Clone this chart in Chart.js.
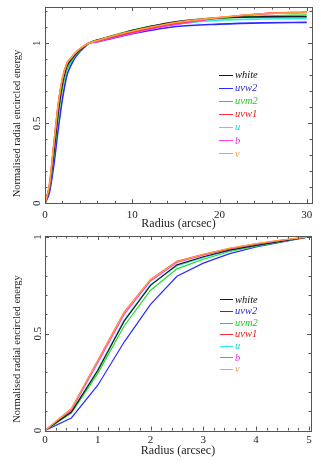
<!DOCTYPE html>
<html>
<head>
<meta charset="utf-8">
<script src="https://cdn.jsdelivr.net/npm/chart.js@4/dist/chart.umd.min.js"></script>
<style>
html,body{margin:0;padding:0;background:#fff;}
canvas{display:block;}
</style>
</head>
<body>
<canvas id="top" width="327" height="230"></canvas>
<canvas id="bottom" width="327" height="233"></canvas>
<script>
// ---- data ----
const bands = ['white', 'uvw2', 'uvm2', 'uvw1', 'u', 'b', 'v'];
const innerRadii = [0, 0.5, 1, 1.5, 2, 2.5, 3, 3.5, 4, 4.5, 5];
const outerRadii = [6, 7, 8, 10, 12, 15, 20, 25, 30];

const whiteInner = [0, 0.095, 0.31, 0.565, 0.75, 0.856, 0.898, 0.932, 0.957, 0.978, 1];
const uvw2Inner  = [0, 0.065, 0.234, 0.457, 0.652, 0.797, 0.865, 0.914, 0.948, 0.974, 1];
const uvm2Inner  = [0, 0.09, 0.295, 0.54, 0.725, 0.835, 0.885, 0.925, 0.953, 0.977, 1];
const uvw1Inner  = [0, 0.112, 0.362, 0.612, 0.781, 0.874, 0.91, 0.94, 0.965, 0.984, 1];
const uInner     = [0, 0.098, 0.315, 0.57, 0.755, 0.85, 0.893, 0.93, 0.956, 0.978, 1];
const bInner     = [0, 0.105, 0.35, 0.6, 0.773, 0.868, 0.906, 0.938, 0.963, 0.983, 1];
const vInner     = [0, 0.112, 0.36, 0.61, 0.78, 0.872, 0.91, 0.942, 0.966, 0.985, 1];

const whiteOuter = [1.02, 1.035, 1.05, 1.08, 1.105, 1.135, 1.16, 1.165, 1.166];
const uvw2Outer  = [1.01, 1.022, 1.035, 1.06, 1.08, 1.105, 1.12, 1.128, 1.131];
const uvm2Outer  = [1.02, 1.037, 1.052, 1.082, 1.105, 1.132, 1.155, 1.17, 1.177];
const uvw1Outer  = [1.015, 1.03, 1.045, 1.07, 1.095, 1.125, 1.16, 1.185, 1.194];
const uOuter     = [1.015, 1.03, 1.045, 1.072, 1.095, 1.12, 1.145, 1.152, 1.154];
const bOuter     = [1.01, 1.025, 1.038, 1.063, 1.088, 1.118, 1.16, 1.185, 1.194];
const vOuter     = [1.018, 1.034, 1.05, 1.076, 1.1, 1.13, 1.162, 1.185, 1.192];

const topXTicks = [0, 10, 20, 30];
const bottomXTicks = [0, 1, 2, 3, 4, 5];
const yTicks = [0, 0.5, 1];
const yTickLabels = ['0', '0.5', '1'];
const xTitle = 'Radius (arcsec)';
const yTitle = 'Normalised radial encircled energy';

// ---- styles ----
const colours = ['#1a1a1a', '#2a2aff', '#22dd22', '#ff2b3a', '#2eeaea', '#ff3cff', '#ffa040'];
const textColours = ['#111111', '#2a2ad0', '#22cc22', '#e02020', '#22d0d0', '#e030e0', '#f0a040'];
const innerSets = [whiteInner, uvw2Inner, uvm2Inner, uvw1Inner, uInner, bInner, vInner];
const outerSets = [whiteOuter, uvw2Outer, uvm2Outer, uvw1Outer, uOuter, bOuter, vOuter];
const drawOrder = [2, 6, 5, 1, 4, 3, 0];
const SERIF = '"Liberation Serif", "Times New Roman", serif';

function pts(xs, ys) { return xs.map((x, i) => ({x: x, y: ys[i]})); }

const framePlugin = {
  id: 'frame',
  afterDraw(chart, args, o) {
    const ctx = chart.ctx, a = chart.chartArea;
    const xs = chart.scales.x, ys = chart.scales.y;
    ctx.save();
    ctx.strokeStyle = '#555';
    ctx.lineWidth = 1;
    ctx.strokeRect(Math.round(a.left) + 0.5, Math.round(a.top) + 0.5, Math.round(a.right - a.left), Math.round(a.bottom - a.top));
    function tickSet(min, max, step) {
      const out = []; const n = Math.round((max - min) / step);
      for (let i = 0; i <= n + 1; i++) { const v = +(min + i * step).toFixed(6); if (v <= max + 1e-9) out.push(v); }
      return out;
    }
    ctx.beginPath();
    tickSet(0, xs.max, o.xMinor).forEach(v => {
      const isMajor = Math.abs(v / o.xMajor - Math.round(v / o.xMajor)) < 1e-6;
      const L = isMajor ? 4 : 2.5;
      const px = Math.round(xs.getPixelForValue(v)) + 0.5;
      ctx.moveTo(px, a.bottom); ctx.lineTo(px, a.bottom - L);
      ctx.moveTo(px, a.top); ctx.lineTo(px, a.top + L);
    });
    tickSet(0, ys.max, 0.1).forEach(v => {
      const isMajor = Math.abs(v / 0.5 - Math.round(v / 0.5)) < 1e-6;
      const L = isMajor ? 4 : 2.5;
      const py = Math.round(ys.getPixelForValue(v)) + 0.5;
      ctx.moveTo(a.left, py); ctx.lineTo(a.left + L, py);
      ctx.moveTo(a.right, py); ctx.lineTo(a.right - L, py);
    });
    ctx.stroke();
    ctx.fillStyle = '#222';
    ctx.textAlign = 'center';
    ctx.textBaseline = 'middle';
    // rotated y tick labels
    ctx.font = '11px ' + SERIF;
    yTicks.forEach((v, i) => {
      ctx.save();
      ctx.translate(o.yLabelX, ys.getPixelForValue(v));
      ctx.rotate(-Math.PI / 2);
      ctx.fillText(yTickLabels[i], 0, 0);
      ctx.restore();
    });
    // rotated y axis title
    ctx.font = '10.5px ' + SERIF;
    ctx.save();
    ctx.translate(17.5, o.yTitleY);
    ctx.rotate(-Math.PI / 2);
    ctx.fillText(yTitle, 0, 0);
    ctx.restore();
    // legend
    ctx.font = 'italic 10.5px ' + SERIF;
    ctx.textAlign = 'left';
    chart.data.datasets.forEach((ds, i) => {
      const y = a.top + o.legTop + i * o.legStep;
      ctx.strokeStyle = colours[i];
      ctx.lineWidth = 1;
      ctx.beginPath();
      ctx.moveTo(o.legX0, Math.round(y) + 0.5); ctx.lineTo(o.legX1, Math.round(y) + 0.5);
      ctx.stroke();
      ctx.fillStyle = textColours[i];
      ctx.fillText(ds.label, o.legX1 + 2, y + 0.5);
    });
    ctx.restore();
  }
};

function makeChart(id, cfg) {
  const datasets = bands.map((name, i) => ({
    label: name,
    data: cfg.data[i],
    borderColor: colours[i],
    backgroundColor: colours[i],
    borderWidth: cfg.lw,
    pointRadius: 0,
    fill: false,
    order: drawOrder[i],
    cubicInterpolationMode: cfg.smooth ? 'monotone' : 'default',
    tension: 0
  }));
  return new Chart(document.getElementById(id), {
    type: 'line',
    data: { datasets: datasets },
    options: {
      responsive: false,
      animation: false,
      devicePixelRatio: 1,
      layout: { padding: cfg.padding },
      plugins: { legend: { display: false }, tooltip: { enabled: false }, frame: cfg.frame },
      scales: {
        x: {
          type: 'linear', min: 0, max: cfg.xMax,
          afterBuildTicks: s => { s.ticks = cfg.xTicks.map(v => ({value: v})); },
          afterFit: s => { s.height = cfg.xHeight; },
          grid: { display: false, drawTicks: false },
          border: { display: false },
          ticks: { padding: cfg.xTickPad, color: '#222', font: { family: SERIF, size: 11 }, maxRotation: 0 },
          title: { display: true, text: xTitle, color: '#222', font: { family: SERIF, size: 12, lineHeight: 1.2 }, padding: { top: 0, bottom: cfg.xTitlePad } }
        },
        y: {
          type: 'linear', min: 0, max: cfg.yMax,
          afterFit: s => { s.width = 45; },
          grid: { display: false, drawTicks: false },
          border: { display: false },
          ticks: { display: false },
          title: { display: false }
        }
      }
    },
    plugins: [framePlugin]
  });
}

makeChart('top', {
  data: innerSets.map((s, i) => pts(innerRadii.concat(outerRadii), s.concat(outerSets[i]))),
  smooth: true, lw: 1.6,
  xMax: 30.6, yMax: 1.227, xTicks: topXTicks,
  padding: { top: 7, right: 15, left: 0, bottom: 0 },
  xHeight: 26.7, xTickPad: 5, xTitlePad: -1,
  frame: { xMinor: 2, xMajor: 10, yLabelX: 37.5, yTitleY: 123.5, legTop: 68, legStep: 13.05, legX0: 219, legX1: 233 }
});

makeChart('bottom', {
  data: innerSets.map(s => pts(innerRadii, s)),
  smooth: false, lw: 1.2,
  xMax: 5.04, yMax: 1.005, xTicks: bottomXTicks,
  padding: { top: 6, right: 16, left: 0, bottom: 0 },
  xHeight: 32.5, xTickPad: 3.5, xTitlePad: 5,
  frame: { xMinor: 0.2, xMajor: 1, yLabelX: 38, yTitleY: 119, legTop: 63.3, legStep: 11.6, legX0: 220, legX1: 233 }
});
</script>
</body>
</html>
